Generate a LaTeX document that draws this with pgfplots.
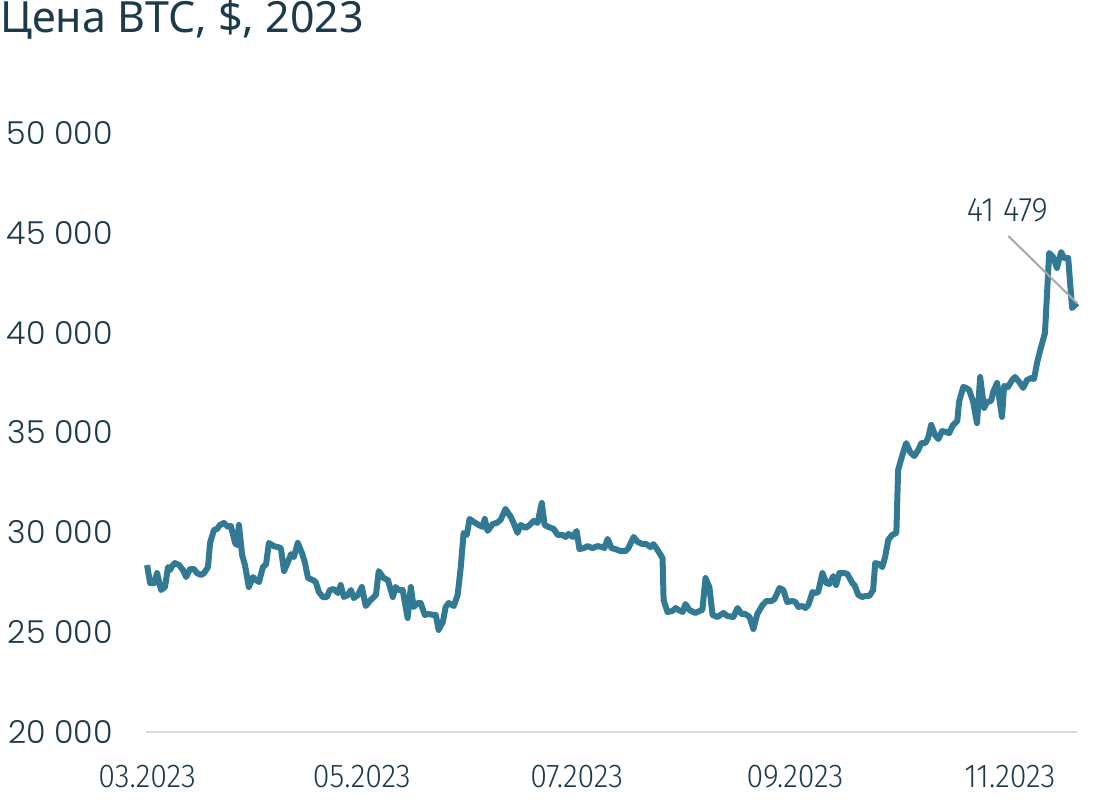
\documentclass[border=0pt]{standalone}
\usepackage{pgfplots}
\pgfplotsset{compat=1.18}
\usepackage{fontspec}
\setmainfont{Noto Sans}
\newfontfamily\titlefont{Noto Sans}
\newfontfamily\ylabfont{Poppins}[UprightFont={* Light}]
\newfontfamily\condfont{Fira Sans Light}[FakeStretch=0.92]
\definecolor{btc}{HTML}{327A93}
\definecolor{txt}{HTML}{1D3A4A}
\definecolor{annot}{HTML}{A8A8A8}
\definecolor{base}{HTML}{D9D9D9}
\begin{document}
\begin{tikzpicture}
\useasboundingbox (0,0) rectangle (550pt,401.5pt);
\node[anchor=base west, inner sep=0pt, text=txt, font=\titlefont\fontsize{21.5}{24}\selectfont] at (0pt,385pt) {Цена BTC, \$, 2023};
\begin{axis}[
  at={(73pt,35.5pt)}, anchor=south west,
  scale only axis, width=465.5pt, height=299.5pt,
  xmin=-0.3, xmax=264.1, ymin=20000, ymax=50000,
  clip=false, scaled y ticks=false, scaled x ticks=false,
  axis x line=bottom, axis y line=left,
  x axis line style={-, draw=base, line width=1.3pt},
  y axis line style={draw=none},
  major tick length=0pt,
  xtick={0,61,122,184,245},
  xticklabels={03.2023,05.2023,07.2023,09.2023,11.2023},
  ytick={20000,25000,30000,35000,40000,45000,50000},
  yticklabels={20 000,25 000,30 000,35 000,40 000,45 000,50 000},
  xticklabel style={anchor=north, inner sep=0pt, yshift=-16.5pt, text=txt, font=\condfont\fontsize{16.5}{18}\selectfont},
  yticklabel style={anchor=east, inner sep=0pt, xshift=-16.5pt, text=txt, font=\ylabfont\fontsize{15.8}{18}\selectfont},
]
\addplot[btc, line width=3pt, line join=round, no markers] coordinates {
(0,28360) (0.85,27460) (2.0,27460) (2.84,27960) (3.97,27110) (5.1,27260) (5.96,28260) (6.5,28110) (7.1,28310) (7.9,28460)
(9.1,28360) (10.2,28110) (11.1,27760) (12.2,28160) (13.3,28160) (14.2,27960) (15.3,27860) (16.2,27960) (17.3,28260) (17.9,29470)
(19.0,30120) (19.9,30170) (20.7,30370) (21.8,30470) (23.0,30270) (23.8,30320) (25.0,29470) (25.5,29360) (26.1,30370) (27.0,28860)
(27.8,28360) (28.9,27260) (30.1,27760) (30.9,27610) (31.8,27510) (32.9,28260) (33.8,28410) (34.6,29470) (36.0,29310) (37.2,29260)
(38.0,29210) (38.9,28060) (40.0,28510) (40.9,28910) (41.7,28760) (42.8,29470) (44.0,28960) (44.8,28510) (45.7,27710) (47.1,27610)
(47.9,27510) (48.8,27010) (49.9,26760) (51.1,26760) (51.9,27110) (53.0,27160) (54.2,26960) (55.0,27360) (55.9,26760) (57.0,26860)
(57.9,27110) (58.7,26710) (59.9,26860) (61.0,27260) (62.1,26310) (63.5,26610) (65.0,26860) (65.8,28060) (67.2,27710) (68.4,27610)
(69.8,26760) (70.6,27260) (71.5,27110) (72.6,27110) (74.0,25710) (74.9,27260) (75.7,26260) (76.9,26460) (77.7,26460) (78.9,25860)
(80.0,25910) (81.4,25860) (82.0,25860) (82.8,25110) (84.0,25510) (84.8,26260) (85.7,26460) (87.1,26310) (88.2,26860) (89.1,28260)
(89.9,29970) (90.8,29870) (91.6,30670) (92.8,30520) (94.2,30370) (95.3,30270) (95.9,30670) (96.7,30070) (98.2,30420) (99.3,30470)
(100.4,30620) (101.8,31170) (103.3,30770) (104.1,30470) (105.2,29970) (106.1,30370) (107.5,30220) (108.7,30370) (109.8,30570) (110.9,30470)
(112.1,31470) (112.9,30370) (114.0,30270) (115.5,30170) (116.6,29870) (118.0,29870) (118.9,29770) (119.7,29920) (120.9,29770) (122.0,30070)
(122.8,29160) (124.0,29210) (125.1,29310) (126.5,29210) (127.9,29310) (129.4,29260) (129.9,29210) (130.8,29670) (131.9,29210) (133.0,29160)
(134.5,29060) (135.9,29060) (136.7,29210) (138.2,29770) (139.3,29520) (140.7,29410) (141.8,29410) (143.0,29260) (143.8,29410) (145.0,29110)
(146.4,28710) (146.7,26610) (147.8,26010) (149.2,26060) (150.1,26210) (150.9,26110) (152.1,26010) (152.9,26410) (154.0,26110) (155.7,25960)
(156.9,26060) (157.7,26110) (158.6,27710) (159.7,27260) (160.6,25860) (162.0,25760) (163.7,25960) (164.8,25810) (166.5,25760) (167.7,26210)
(168.8,25910) (169.9,25910) (171.1,25760) (172.2,25160) (173.3,25910) (174.8,26360) (175.9,26560) (177.3,26560) (178.2,26660) (179.6,27210)
(180.7,27110) (181.8,26510) (183.3,26560) (184.1,26510) (185.0,26260) (186.1,26310) (187.0,26210) (187.8,26360) (189.0,27010) (189.8,26960)
(190.6,27010) (191.8,27960) (192.9,27460) (193.8,27410) (194.9,27810) (195.7,27360) (196.6,27960) (198.0,27960) (198.9,27910) (200.3,27460)
(200.9,27360) (202.0,26860) (203.1,26760) (204.0,26810) (205.1,26810) (206.2,27110) (206.8,28460) (207.9,28410) (208.8,28260) (209.6,28760)
(210.5,29620) (211.6,29870) (212.8,29970) (213.3,33120) (214.5,33870) (215.6,34470) (216.7,34020) (217.9,33820) (219.0,34120) (219.9,34470)
(221.0,34470) (221.8,34720) (222.7,35380) (223.8,34870) (224.7,34670) (225.8,35070) (227.0,35020) (227.8,34970) (228.9,35380) (230.1,35570)
(230.6,36530) (231.8,37280) (232.6,37230) (233.5,37130) (234.6,36530) (235.7,35470) (236.6,37780) (237.7,36230) (238.6,36530) (239.7,36580)
(240.3,37030) (241.4,37480) (242.8,35780) (243.4,37330) (244.5,37280) (245.7,37630) (246.5,37780) (247.7,37530) (248.8,37230) (249.9,37630)
(251.1,37730) (251.9,37680) (252.8,38530) (253.9,39280) (255.0,39980) (256.2,43990) (257.3,43790) (258.4,43240) (259.6,44040) (260.4,43740)
(261.6,43740) (262.7,41230) (263.5,41380) (264.1,41479)
};
\draw[annot, line width=1pt] (axis cs:244.6,44840) -- (axis cs:264.1,41479);
\node[text=txt, inner sep=0pt, font=\condfont\fontsize{17}{19}\selectfont] at (axis cs:244.3,46140) {41 479};
\end{axis}
\end{tikzpicture}
\end{document}
